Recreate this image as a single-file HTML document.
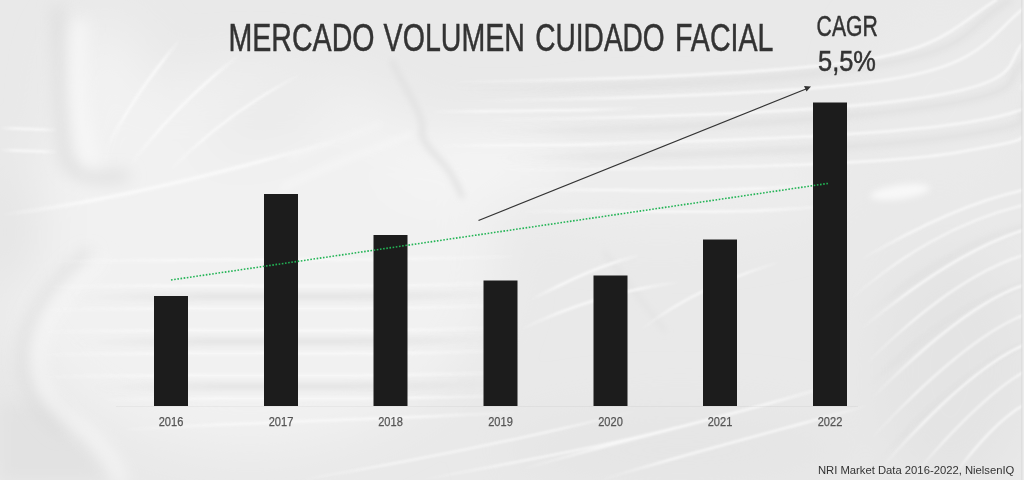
<!DOCTYPE html>
<html lang="es">
<head>
<meta charset="utf-8">
<title>Mercado volumen cuidado facial</title>
<style>
html,body{margin:0;padding:0;width:1024px;height:480px;overflow:hidden;background:#e6e6e6;}
svg{display:block;}
text{font-family:"Liberation Sans",Arial,sans-serif;}
</style>
</head>
<body>
<svg width="1024" height="480" viewBox="0 0 1024 480">
  <defs>
    <filter id="b1" x="-10%" y="-10%" width="120%" height="120%"><feGaussianBlur stdDeviation="1.2"/></filter>
    <filter id="b3" x="-20%" y="-20%" width="140%" height="140%"><feGaussianBlur stdDeviation="3"/></filter>
    <filter id="b8" x="-30%" y="-30%" width="160%" height="160%"><feGaussianBlur stdDeviation="8"/></filter>
    <filter id="b25" x="-50%" y="-50%" width="200%" height="200%"><feGaussianBlur stdDeviation="25"/></filter>
    <linearGradient id="fade" x1="0" y1="0" x2="1" y2="0">
      <stop offset="0" stop-color="#f9f9f9" stop-opacity="0"/>
      <stop offset="0.25" stop-color="#f9f9f9" stop-opacity="1"/>
      <stop offset="0.75" stop-color="#f9f9f9" stop-opacity="1"/>
      <stop offset="1" stop-color="#f9f9f9" stop-opacity="0"/>
    </linearGradient>
    <linearGradient id="fadeL" x1="0" y1="0" x2="1" y2="0">
      <stop offset="0" stop-color="#f9f9f9" stop-opacity="0"/>
      <stop offset="0.3" stop-color="#f9f9f9" stop-opacity="1"/>
      <stop offset="1" stop-color="#f9f9f9" stop-opacity="1"/>
    </linearGradient>
    <linearGradient id="fadeG" x1="0" y1="0" x2="1" y2="0">
      <stop offset="0" stop-color="#dedede" stop-opacity="0"/>
      <stop offset="0.3" stop-color="#dedede" stop-opacity="1"/>
      <stop offset="0.7" stop-color="#dedede" stop-opacity="1"/>
      <stop offset="1" stop-color="#dedede" stop-opacity="0"/>
    </linearGradient>
    <linearGradient id="fadeGL" x1="0" y1="0" x2="1" y2="0">
      <stop offset="0" stop-color="#dedede" stop-opacity="0"/>
      <stop offset="0.3" stop-color="#dedede" stop-opacity="1"/>
      <stop offset="1" stop-color="#dedede" stop-opacity="1"/>
    </linearGradient>
  </defs>
  <!-- background: cream texture approximation -->
  <rect x="0" y="0" width="1024" height="480" fill="#e9e9e9"/>
  <!-- large tonal areas -->
  <g filter="url(#b25)">
    <ellipse cx="250" cy="260" rx="250" ry="190" fill="#f1f1f1"/>
    <ellipse cx="660" cy="175" rx="190" ry="60" fill="#ededed"/>
    <ellipse cx="105" cy="95" rx="42" ry="72" fill="#f2f2f2"/>
    <ellipse cx="470" cy="165" rx="95" ry="38" fill="#f4f4f4" transform="rotate(-6 470 165)"/>
    <ellipse cx="270" cy="118" rx="60" ry="16" fill="#e6e6e6" transform="rotate(-20 270 118)"/>
    <ellipse cx="940" cy="100" rx="80" ry="90" fill="#eaeaea"/>
    <ellipse cx="950" cy="370" rx="80" ry="120" fill="#e4e4e4"/>
    <ellipse cx="680" cy="450" rx="180" ry="40" fill="#e5e5e5"/>
    <ellipse cx="15" cy="230" rx="25" ry="60" fill="#e4e4e4"/>
    <ellipse cx="10" cy="420" rx="25" ry="60" fill="#e5e5e5"/>
  </g>
  <g filter="url(#b8)"><polygon points="0,405 55,402 112,480 0,480" fill="#e2e2e2"/></g>
  <!-- shadow creases -->
  <g filter="url(#b8)" fill="none" stroke-linecap="round">
    <path d="M58 10 C60 60 61 120 65 155 C69 175 90 180 125 176" stroke="#dadada" stroke-width="9"/>
    <path d="M88 255 C52 282 26 318 24 355 C24 388 40 412 62 430" stroke="#d9d9d9" stroke-width="8"/>
  </g>
  <g filter="url(#b8)" fill="none" stroke-linecap="round">
    <path d="M80 25 C76 80 78 130 92 160" stroke="#f8f8f8" stroke-width="14"/>
    <path d="M100 262 C66 286 40 320 38 355 C37 385 52 408 80 426 C100 440 112 458 122 480" stroke="#f7f7f7" stroke-width="10"/>
  </g>
  <g filter="url(#b3)" fill="none" stroke-linecap="round">
    <path d="M392 62 C404 86 420 110 423 127 C418 136 428 148 442 162 C452 174 458 186 462 196" stroke="#e0e0e0" stroke-width="5"/>
    <path d="M282 188 C320 170 370 150 412 134" stroke="#f8f8f8" stroke-width="3"/>
    <path d="M290 158 C320 146 350 136 380 124" stroke="#f6f6f6" stroke-width="2.5"/>
    <path d="M604 252 C625 280 645 305 665 331" stroke="#e1e1e1" stroke-width="3"/>
  </g>
  <!-- gray bands between streaks -->
  <g filter="url(#b3)" fill="none" stroke-linecap="round" stroke="url(#fadeG)" opacity="0.9">
    <path d="M70 298 C200 294 360 300 520 293" stroke-width="5"/>
    <path d="M70 343 C200 339 360 345 520 338" stroke-width="5"/>
    <path d="M90 388 C200 384 360 390 520 383" stroke-width="5"/>
    <path stroke="url(#fadeGL)" d="M460 90 C600 88 760 84 870 66 S960 30 1010 0" stroke-width="5"/>
    <path stroke="url(#fadeGL)" d="M480 132 C620 130 800 124 920 108 S1000 78 1024 62" stroke-width="5"/>
    <path stroke="url(#fadeGL)" d="M860 395 C915 340 970 300 1024 285" stroke-width="4"/>
    <path stroke="url(#fadeGL)" d="M870 470 C930 405 985 360 1024 345" stroke-width="4"/>
    <path stroke="url(#fadeGL)" d="M860 320 C915 275 970 240 1024 228" stroke-width="4"/>
    <path stroke="url(#fadeGL)" d="M500 158 C640 156 840 152 950 137 S1010 118 1024 110" stroke-width="5"/>
  </g>
  <!-- fine bright streaks -->
  <g filter="url(#b1)" fill="none" stroke-linecap="round" stroke="url(#fade)" opacity="0.9">
    <path d="M105 150 C130 105 150 75 180 40" stroke-width="3"/>
    <path d="M130 165 C165 120 200 85 240 55" stroke-width="3"/>
    <path d="M170 170 C210 130 250 100 300 75" stroke-width="2.5"/>
    <path d="M0 215 C120 200 230 170 340 140" stroke-width="4"/>
    <path d="M0 128 L55 130 M0 150 L58 152" stroke-width="2.5"/>
    <path d="M50 262 C200 258 360 262 520 256" stroke-width="2.5"/>
    <path d="M45 287 C200 283 360 290 520 282" stroke-width="2.5"/>
    <path d="M42 310 C200 306 360 312 520 305" stroke-width="2.5"/>
    <path d="M40 332 C200 328 360 334 520 327" stroke-width="2.5"/>
    <path d="M40 355 C200 351 360 357 520 350" stroke-width="2.5"/>
    <path d="M42 377 C200 373 360 379 520 372" stroke-width="2.5"/>
    <path d="M100 400 C220 396 360 402 520 395" stroke-width="2.5"/>
    <path d="M120 430 C240 422 380 420 520 412" stroke-width="2.5"/>
    <path stroke="url(#fadeL)" d="M450 82 C600 80 760 74 850 62 S950 30 996 0" stroke-width="2.5"/>
    <path stroke="url(#fadeL)" d="M470 101 C620 99 800 94 892 79 S990 35 1024 8" stroke-width="2.5"/>
    <path stroke="url(#fadeL)" d="M480 120 C640 118 840 112 933 96 S1005 62 1024 42" stroke-width="2.5"/>
    <path stroke="url(#fadeL)" d="M500 145 C660 143 880 138 975 121 S1012 96 1024 83" stroke-width="2.5"/>
    <path stroke="url(#fadeL)" d="M500 170 C680 169 880 166 960 152 S1012 140 1024 137" stroke-width="2.5"/>
    <path d="M430 112 C500 110 570 112 640 108" stroke-width="2.5"/>
    <path d="M440 146 C510 144 570 147 640 143" stroke-width="2.5"/>
    <path d="M520 190 C620 188 720 196 840 182" stroke-width="2.5"/>
    <path d="M520 212 C620 208 720 218 850 204" stroke-width="2.5"/>
    <path stroke="url(#fadeL)" d="M860 260 C920 225 975 200 1024 190" stroke-width="2.5"/>
    <path stroke="url(#fadeL)" d="M860 330 C920 280 975 245 1024 230" stroke-width="2.5"/>
    <path stroke="url(#fadeL)" d="M870 400 C930 340 980 300 1024 285" stroke-width="2.5"/>
    <path stroke="url(#fadeL)" d="M880 470 C940 400 990 360 1024 345" stroke-width="2.5"/>
    <path stroke="url(#fadeL)" d="M950 480 C980 440 1005 415 1024 405" stroke-width="2.5"/>
    <path stroke="url(#fadeL)" d="M850 300 C900 255 960 220 1024 205" stroke-width="2"/>
    <path stroke="url(#fadeL)" d="M865 365 C920 310 975 270 1024 255" stroke-width="2"/>
    <path stroke="url(#fadeL)" d="M870 440 C930 375 985 330 1024 315" stroke-width="2"/>
    <path stroke="url(#fadeL)" d="M910 480 C960 420 1000 385 1024 372" stroke-width="2"/>
    <path d="M300 480 C420 460 520 440 640 410" stroke-width="2"/>
    <path d="M420 480 C540 458 640 440 760 405" stroke-width="2"/>
    <path d="M530 300 C570 280 600 265 640 255" stroke-width="2.5"/>
    <path d="M520 330 C570 305 620 290 680 282" stroke-width="2.5"/>
    <path d="M640 330 C680 300 720 280 780 262" stroke-width="2"/>
    <path d="M520 470 C620 440 720 420 850 380" stroke-width="2.5"/>
    <path d="M600 480 C700 450 780 430 870 405" stroke-width="2.5"/>
  </g>
  <g filter="url(#b3)">
    <ellipse cx="900" cy="192" rx="30" ry="7" fill="#f8f8f8" transform="rotate(-8 900 192)"/>
  </g>
  <!-- faint axis -->
  <line x1="116" y1="406.5" x2="858" y2="406.5" stroke="#000" stroke-opacity="0.035"/>
  <!-- right edge -->
  <rect x="1021.5" y="0" width="1" height="480" fill="#d6d6d6"/>
  <rect x="1022.5" y="0" width="1.5" height="480" fill="#ececec"/>

  <!-- title -->
  <g font-size="39" fill="#333333" stroke="#333333" stroke-width="0.5">
    <text x="228.5" y="51.3" textLength="146" lengthAdjust="spacingAndGlyphs">MERCADO</text>
    <text x="383.6" y="51.3" textLength="141.3" lengthAdjust="spacingAndGlyphs">VOLUMEN</text>
    <text x="535.3" y="51.3" textLength="129.4" lengthAdjust="spacingAndGlyphs">CUIDADO</text>
    <text x="675" y="51.3" textLength="98.4" lengthAdjust="spacingAndGlyphs">FACIAL</text>
  </g>
  <g font-size="30" fill="#333333" stroke="#333333" stroke-width="0.5">
    <text x="816.6" y="35.6" textLength="61.2" lengthAdjust="spacingAndGlyphs">CAGR</text>
    <text x="818" y="71.4" textLength="57.9" lengthAdjust="spacingAndGlyphs">5,5%</text>
  </g>

  <!-- bars -->
  <g fill="#1c1c1c">
    <rect x="154" y="296" width="34" height="110"/>
    <rect x="264" y="194" width="34" height="212"/>
    <rect x="373.5" y="235" width="34" height="171"/>
    <rect x="483.5" y="280.5" width="34" height="125.5"/>
    <rect x="593.5" y="275.5" width="34" height="130.5"/>
    <rect x="703" y="239.5" width="34" height="166.5"/>
    <rect x="813" y="102.5" width="34" height="303.5"/>
  </g>

  <!-- trend line (green dotted) -->
  <line x1="171" y1="280" x2="829.5" y2="183.2" stroke="#22b455" stroke-width="1.6" stroke-dasharray="1.6 1.6"/>

  <!-- CAGR arrow -->
  <line x1="478.5" y1="220.5" x2="806" y2="89" stroke="#333333" stroke-width="1.3"/>
  <polygon points="811,86.5 804,86 806.5,91.6" fill="#333333"/>

  <!-- year labels -->
  <g font-size="13" fill="#555555" stroke="#555555" stroke-width="0.25" text-anchor="middle">
    <text x="171" y="426.4" textLength="24.6" lengthAdjust="spacingAndGlyphs">2016</text>
    <text x="281" y="426.4" textLength="24.6" lengthAdjust="spacingAndGlyphs">2017</text>
    <text x="390.5" y="426.4" textLength="24.6" lengthAdjust="spacingAndGlyphs">2018</text>
    <text x="500.5" y="426.4" textLength="24.6" lengthAdjust="spacingAndGlyphs">2019</text>
    <text x="610.5" y="426.4" textLength="24.6" lengthAdjust="spacingAndGlyphs">2020</text>
    <text x="720" y="426.4" textLength="24.6" lengthAdjust="spacingAndGlyphs">2021</text>
    <text x="830" y="426.4" textLength="24.6" lengthAdjust="spacingAndGlyphs">2022</text>
  </g>

  <!-- source -->
  <text x="817.9" y="473.9" font-size="11.5" fill="#333333" textLength="196.5" lengthAdjust="spacingAndGlyphs">NRI Market Data 2016-2022, NielsenIQ</text>
</svg>
</body>
</html>
